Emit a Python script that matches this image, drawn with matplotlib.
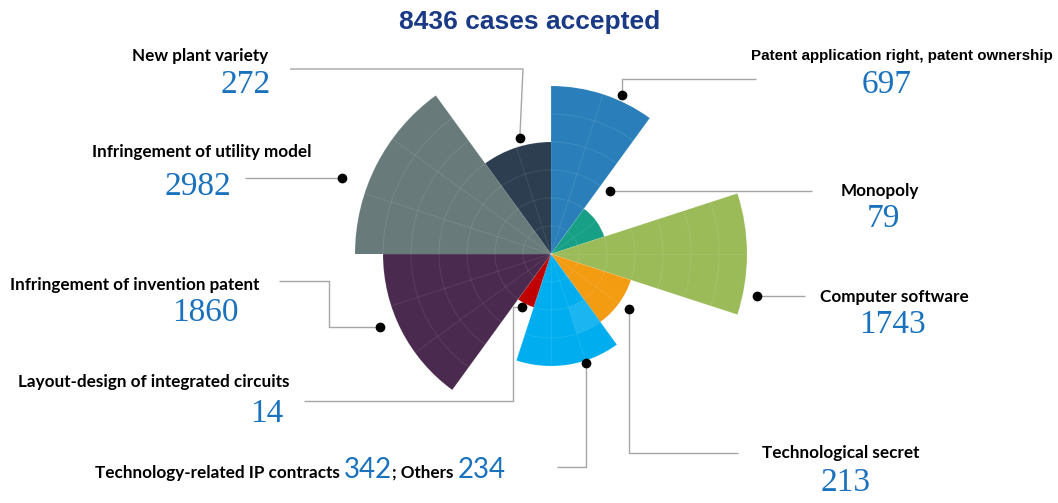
import matplotlib
matplotlib.use("Agg")
import matplotlib.pyplot as plt
import numpy as np

W, H = 1058, 503

# ---------------- data ----------------
title = "8436 cases accepted"
wedge_names = ["Patent application right, patent ownership", "Monopoly",
               "Computer software", "Technological secret",
               "Technology-related IP contracts; Others",
               "Layout-design of integrated circuits",
               "Infringement of invention patent",
               "Infringement of utility model", "New plant variety"]
case_counts = [697, 79, 1743, 213, 342, 14, 1860, 2982, 272]
others_count = 234
# stylised rose: radius level (grid rings) and angular span (18-degree bins)
rose_levels = [6, 2, 7, 3, 4, 2, 6, 7, 4]
bin_spans = [2, 2, 2, 2, 3, 1, 3, 3, 2]
colors = ["#2A7FBA", "#17A086", "#9BBB59", "#F39C12", "#00AEEF",
          "#C00000", "#4A2A4E", "#687B7A", "#2C3E50"]
# lighter patch inside the light-blue wedge (bin index, bottom, height)
patch_bin, patch_bottom, patch_height = 8, 2, 1
patch_color = "#1BB6F1"

# ---------------- figure ----------------
fig = plt.figure(figsize=(W / 100, H / 100), dpi=100)
cx, cy, unit = 551, 254, 28.0
rmax = 8
rad_px = rmax * unit
ax = fig.add_axes([(cx - rad_px) / W, (H - cy - rad_px) / H,
                   2 * rad_px / W, 2 * rad_px / H], projection="polar")
ax.set_theta_zero_location("N")
ax.set_theta_direction(-1)
ax.set_ylim(0, rmax)

bin_w = np.deg2rad(18)
starts = np.concatenate([[0], np.cumsum(bin_spans)[:-1]])
ax.bar(starts * bin_w, rose_levels, width=np.array(bin_spans) * bin_w,
       align="edge", color=colors, edgecolor="none", zorder=1)
ax.bar(patch_bin * bin_w, patch_height, width=bin_w, bottom=patch_bottom,
       align="edge", color=patch_color, edgecolor="none", zorder=1.5)

ax.set_axisbelow(False)
ax.set_rgrids(np.arange(1, rmax), labels=[])
ax.set_thetagrids(np.arange(0, 360, 18), labels=[])
ax.grid(True, color="white", alpha=0.08, lw=0.8)
ax.spines["polar"].set_visible(False)
ax.patch.set_visible(False)

fig.canvas.draw()


def px(theta_deg, r):
    d = ax.transData.transform((np.deg2rad(theta_deg), r))
    return d[0], H - d[1]


ov = fig.add_axes([0, 0, 1, 1], zorder=5)
ov.set_xlim(0, W)
ov.set_ylim(H, 0)
ov.axis("off")
ov.patch.set_visible(False)

line_kw = dict(color="#A6A6A6", lw=1.0, solid_capstyle="butt", zorder=2)

# leader lines: dot position (compass deg, radius level) and elbow points
leaders = [
    ((24, 6.2), lambda x, y: [(x, 79), (756, 79)]),
    ((43, 3.1), lambda x, y: [(812, y)]),
    ((101.5, 7.5), lambda x, y: [(805, y)]),
    ((125, 3.4), lambda x, y: [(x, 453), (738, 453)]),
    ((162, 4.08), lambda x, y: [(x, 467), (557, 467)]),
    ((209, 2.15), lambda x, y: [(513, y), (513, 401), (304, 401)]),
    ((247, 6.65), lambda x, y: [(329, y), (329, 281), (279, 281)]),
    ((290, 7.96), lambda x, y: [(245, y)]),
    ((345, 4.3), lambda x, y: [(523, 69), (290, 69)]),
]
for (th, r), path in leaders:
    x, y = px(th, r)
    pts = [(x, y)] + path(x, y)
    ov.plot([p[0] for p in pts], [p[1] for p in pts], **line_kw)
    ov.plot([x], [y], "o", color="black", ms=6, zorder=3)

label_font = ["Lato", "DejaVu Sans"]
narrow_font = ["Liberation Sans", "DejaVu Sans"]
num_font = ["Liberation Serif", "DejaVu Serif"]
num_color = "#1A72BD"
lab_kw = dict(fontsize=12.3, fontweight="bold", color="black", family=label_font)
num_kw = dict(fontsize=24, color=num_color, family=num_font)

ov.text(530, 22, title, ha="center", va="center", fontsize=19,
        fontweight="bold", color="#1B3A86", family=narrow_font)

# (name index, label anchor, label ha, number anchor)
placements = [
    (0, (1053, 56), "right", (887, 85)),
    (1, (880, 191), "center", (883, 219)),
    (2, (820, 297), "left", (892, 325)),
    (3, (841, 453), "center", (845, 483)),
    (5, (18, 382), "left", (267, 414)),
    (6, (10, 285), "left", (205, 313)),
    (7, (311, 152), "right", (198, 187)),
    (8, (268, 56), "right", (246, 85)),
]
for i, (lx, ly), ha, (nx, ny) in placements:
    kw = dict(lab_kw)
    if i == 0:
        kw.update(family=narrow_font, fontsize=10.9)
    ov.text(lx, ly, wedge_names[i], ha=ha, va="center", **kw)
    ov.text(nx, ny, f"{case_counts[i]}", ha="center", va="center", **num_kw)

# combined label for IP contracts / others
renderer = fig.canvas.get_renderer()
name_a, name_b = [s.strip() for s in wedge_names[4].split(";")]
pieces = [(name_a + " ", lab_kw), (f"{case_counts[4]}", None),
          ("; " + name_b + " ", lab_kw), (f"{others_count}", None)]
xcur, base = 95, 478
inv = ov.transData.inverted()
for txt, kw in pieces:
    if kw is None:
        kw = dict(fontsize=20, color=num_color, family=["Lato", "DejaVu Sans"])
    t = ov.text(xcur, base, txt, ha="left", va="baseline", **kw)
    bb = t.get_window_extent(renderer=renderer)
    xcur = inv.transform((bb.x1, 0))[0]

fig.savefig("out.png", dpi=100)
